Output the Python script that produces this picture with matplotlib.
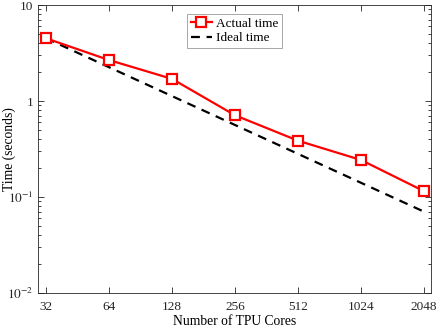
import matplotlib
matplotlib.use("Agg")
import matplotlib.pyplot as plt
from matplotlib.ticker import LogLocator, NullLocator, FixedLocator, NullFormatter

# dados
nucleos = [32, 64, 128, 256, 512, 1024, 2048]
rotulos_x = ["32", "64", "128", "256", "512", "1024", "2048"]
tempo_real = [4.5, 2.67, 1.70, 0.71, 0.386, 0.243, 0.115]
tempo_ideal = [4.5, 2.25, 1.125, 0.5625, 0.28125, 0.140625, 0.0703125]

plt.rcParams["font.family"] = ["Liberation Serif", "DejaVu Serif"]
plt.rcParams["mathtext.fontset"] = "stix"

fig = plt.figure(figsize=(4.36, 3.27), dpi=100)
ax = fig.add_axes([38 / 436, 1 - 293 / 327, (431 - 38) / 436, (293 - 5) / 327])

ax.plot(nucleos, tempo_real, color="red", lw=1.6, marker="s", markersize=7,
        markerfacecolor="white", markeredgecolor="red", markeredgewidth=1.6,
        label="Actual time", zorder=3)
ax.plot(nucleos, tempo_ideal, color="black", lw=1.6, ls=(0, (4, 3)),
        label="Ideal time", zorder=2)

ax.set_xscale("log", base=2)
ax.set_yscale("log")
ax.set_xlim(32 / 2 ** (8 / 63), 2048 * 2 ** (7 / 63))
ax.set_ylim(0.01, 10)

ax.xaxis.set_major_locator(FixedLocator(nucleos))
ax.set_xticklabels(rotulos_x)
ax.xaxis.set_minor_locator(NullLocator())
ax.yaxis.set_minor_locator(LogLocator(base=10, subs=range(2, 10), numticks=20))
ax.yaxis.set_minor_formatter(NullFormatter())
ax.set_yticks([0.01, 0.1, 1, 10])
ax.set_yticklabels([r"$10^{-2}$", r"$10^{-1}$", "1", "10"])

ax.tick_params(which="both", direction="in", top=True, right=True,
               labelsize=9.5, colors="#262626", width=0.6)
ax.tick_params(which="major", length=4)
ax.tick_params(which="minor", length=2)
ax.tick_params(axis="x", pad=6)
for s in ax.spines.values():
    s.set_linewidth(0.6)
    s.set_color("#262626")

ax.set_xlabel("Number of TPU Cores", fontsize=9.8)
ax.xaxis.set_label_coords(0.5, -0.078)
ax.set_ylabel("Time (seconds)", fontsize=9.8)
ax.yaxis.set_label_coords(-0.056, 0.5)

leg = ax.legend(loc="upper center", fontsize=9.5, handlelength=1.6,
                handletextpad=0.3, borderpad=0.25, labelspacing=0.15,
                fancybox=False, framealpha=1, edgecolor="#999999",
                bbox_to_anchor=(0.5, 0.99))
leg.get_frame().set_linewidth(0.6)

fig.savefig("out.png", dpi=100)
